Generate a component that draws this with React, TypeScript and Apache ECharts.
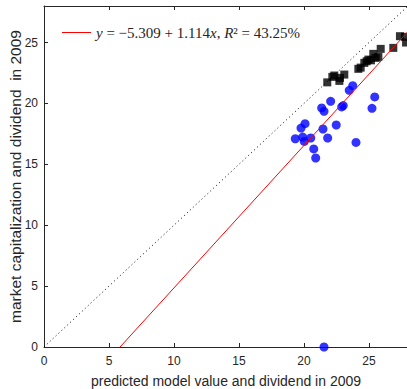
import React, { useEffect, useRef } from "react";
import * as echarts from "echarts";

// black squares: [predicted, actual]
const squareX = [21.79, 22.18, 22.33, 22.72, 22.77, 23.1, 24.18, 24.36, 24.64, 24.82, 24.95, 25.15, 25.33, 25.52, 25.72, 25.9, 26.87, 27.38, 27.77, 27.85];
const squareY = [21.73, 22.18, 22.29, 21.85, 22.1, 22.37, 22.84, 22.94, 23.33, 23.46, 23.6, 23.54, 24.07, 23.74, 23.82, 24.48, 24.56, 25.52, 25.47, 25.0];

// blue circles
const circleX = [23.75, 23.48, 25.44, 25.23, 22.05, 21.36, 21.54, 23.02, 22.9, 20.08, 19.77, 21.46, 22.48, 19.33, 19.9, 20.02, 20.52, 21.82, 20.75, 20.9, 24.0, 21.54];
const circleY = [21.46, 21.08, 20.53, 19.6, 20.17, 19.63, 19.35, 19.82, 19.71, 18.34, 17.98, 17.9, 18.23, 17.1, 17.24, 16.88, 17.16, 17.16, 16.26, 15.52, 16.8, 0];

// fitted line endpoints as drawn, and the diagonal reference
const fitLineX = [5.85, 28];
const fitLineY = [0, 25.91];
const diagX = [0, 28];
const diagY = [0, 28];

const xTicks = [0, 5, 10, 15, 20, 25];
const yTicks = [0, 5, 10, 15, 20, 25];

const zip = (a: number[], b: number[]) => a.map((v, i) => [v, b[i]]);

export default function App() {
  const ref = useRef<HTMLDivElement>(null);
  useEffect(() => {
    if (!ref.current) return;
    const chart = echarts.init(ref.current, null, { renderer: "svg" });
    const axisColor = "#262626";
    const font = "'Liberation Sans', Arial, sans-serif";
    chart.setOption({
      animation: false,
      grid: { left: 44, top: 6, width: 364, height: 341, containLabel: false, outerBoundsMode: "none" },
      legend: {
        data: [{ name: "fit", icon: "rect" }],
        left: 62,
        top: 25,
        padding: 0,
        itemWidth: 29,
        itemHeight: 1,
        itemGap: 7,
        formatter: () => "{i|y} = −5.309 + 1.114{i|x}, {i|R}² = 43.25%",
        textStyle: {
          fontFamily: "'Liberation Serif', 'DejaVu Serif', serif",
          fontSize: 15,
          color: "#262626",
          rich: {
            i: { fontStyle: "italic", fontFamily: "'Liberation Serif', serif", fontSize: 15, color: "#262626" },
          },
        },
      },
      xAxis: [
        {
          type: "value",
          min: 0,
          max: 28,
          interval: 5,
          name: "predicted model value and dividend in 2009",
          nameLocation: "middle",
          nameGap: 27,
          nameMoveOverlap: false,
          nameTextStyle: { fontFamily: font, fontSize: 14, color: axisColor },
          axisLine: { show: true, lineStyle: { color: axisColor, width: 1 } },
          axisTick: { show: true, inside: true, length: 4, lineStyle: { color: axisColor } },
          axisLabel: {
            fontFamily: font,
            fontSize: 12,
            color: axisColor,
            margin: 8,
            showMaxLabel: false,
            formatter: (v: number) => (xTicks.includes(v) ? String(v) : ""),
          },
          splitLine: { show: false },
        },
        {
          type: "value",
          position: "top",
          min: 0,
          max: 28,
          interval: 5,
          axisLine: { show: true, onZero: false, lineStyle: { color: axisColor, width: 1 } },
          axisTick: { show: true, inside: true, length: 4, lineStyle: { color: axisColor } },
          axisLabel: { show: false },
          splitLine: { show: false },
        },
      ],
      yAxis: [
        {
          type: "value",
          min: 0,
          max: 28,
          interval: 5,
          name: "market capitalization and dividend  in 2009",
          nameLocation: "middle",
          nameGap: 21,
          nameMoveOverlap: false,
          nameTextStyle: { fontFamily: font, fontSize: 15.5, color: axisColor },
          axisLine: { show: true, lineStyle: { color: axisColor, width: 1 } },
          axisTick: { show: true, inside: true, length: 4, lineStyle: { color: axisColor } },
          axisLabel: {
            fontFamily: font,
            fontSize: 12,
            color: axisColor,
            margin: 6,
            showMaxLabel: false,
            formatter: (v: number) => (yTicks.includes(v) ? String(v) : ""),
          },
          splitLine: { show: false },
        },
      ],
      series: [
        {
          name: "squares",
          type: "scatter",
          symbol: "rect",
          symbolSize: 8,
          itemStyle: { color: "#000000" },
          data: zip(squareX, squareY),
          z: 3,
        },
        {
          name: "circles",
          type: "scatter",
          symbol: "circle",
          symbolSize: 9,
          itemStyle: { color: "#0000ff" },
          data: zip(circleX, circleY),
          clip: false,
          z: 3,
        },
        {
          name: "diag",
          type: "line",
          symbol: "none",
          data: zip(diagX, diagY),
          lineStyle: { color: "#000000", width: 1, type: [1, 3] },
          z: 4,
        },
        {
          name: "fit",
          type: "line",
          symbol: "none",
          data: zip(fitLineX, fitLineY),
          lineStyle: { color: "#ff0000", width: 1 },
          itemStyle: { color: "#ff0000" },
          z: 4,
        },
      ],
    });
    return () => chart.dispose();
  }, []);
  return (
    <div
      ref={ref}
      style={{ position: "fixed", left: 0, top: 0, width: 407, height: 389, background: "#fff" }}
    />
  );
}
